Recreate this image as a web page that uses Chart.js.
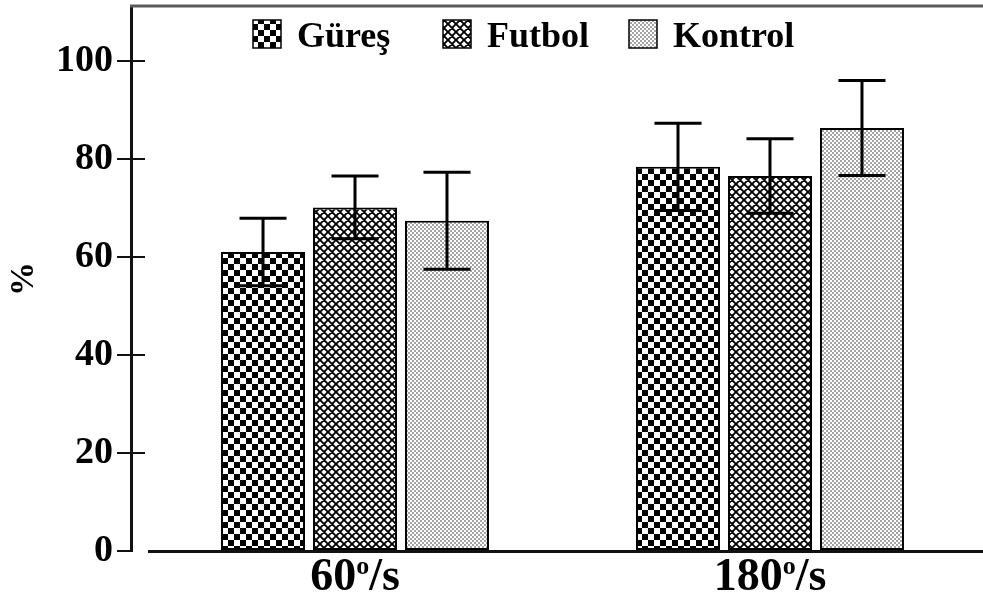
<!DOCTYPE html>
<html>
<head>
<meta charset="utf-8">
<script src="https://cdn.jsdelivr.net/npm/chart.js@4.4.1/dist/chart.umd.min.js"></script>
<style>
  html, body { margin: 0; padding: 0; background: #fff; }
  #wrap { width: 983px; height: 598px; }
</style>
</head>
<body>
<div id="wrap"><canvas id="c" width="983" height="598"></canvas></div>
<script>
// Angular velocity groups (deg/s) and the three participant groups
const speeds = ['60', '180'];
const groups = ['Güreş', 'Futbol', 'Kontrol'];

// Mean values (%) per speed
const gures = [61.0, 78.4];
const futbol = [70.1, 76.5];
const kontrol = [67.4, 86.3];

// Standard deviations (%) per speed
const guresSd = [6.9, 8.9];
const futbolSd = [6.4, 7.6];
const kontrolSd = [9.9, 9.7];

// Y axis tick values
const yTicks = [0, 20, 40, 60, 80, 100];

const SERIF = "'Liberation Serif', 'Times New Roman', serif";

// --- fill patterns -------------------------------------------------------
const patCtx = document.createElement('canvas').getContext('2d');
function makePattern(size, paint) {
  const c = document.createElement('canvas');
  c.width = c.height = size;
  const g = c.getContext('2d');
  g.fillStyle = '#fff';
  g.fillRect(0, 0, size, size);
  paint(g, size);
  return patCtx.createPattern(c, 'repeat');
}
const checker = makePattern(12, (g) => {
  g.fillStyle = '#000';
  g.fillRect(0, 0, 6, 6);
  g.fillRect(6, 6, 6, 6);
});
const lattice = makePattern(8, (g, s) => {
  g.strokeStyle = '#000';
  g.lineWidth = 1.9;
  g.beginPath();
  for (const k of [-s, 0, s]) {
    g.moveTo(k - 2, -2); g.lineTo(k + s + 2, s + 2);
    g.moveTo(k - 2, s + 2); g.lineTo(k + s + 2, -2);
  }
  g.stroke();
});
const stipple = makePattern(4, (g) => {
  g.fillStyle = '#a4a4a4';
  g.fillRect(0, 0, 2, 2);
  g.fillRect(2, 2, 2, 2);
});

const means = [gures, futbol, kontrol];
const sds = [guresSd, futbolSd, kontrolSd];
const fills = [checker, lattice, stipple];

const datasets = groups.map((name, gi) => ({
  label: name,
  data: speeds.map((_, si) => ({ x: si, y: means[gi][si] })),
  backgroundColor: fills[gi],
  borderColor: '#000',
  borderWidth: 2,
  borderSkipped: false
}));

// --- plugins -------------------------------------------------------------
const errorBars = {
  id: 'errorBars',
  afterDatasetsDraw(chart) {
    const y = chart.scales.y;
    const ctx = chart.ctx;
    ctx.save();
    ctx.strokeStyle = '#000';
    ctx.lineWidth = 3;
    chart.data.datasets.forEach((ds, di) => {
      chart.getDatasetMeta(di).data.forEach((bar, i) => {
        const m = ds.data[i].y;
        const sd = sds[di][i];
        const yt = y.getPixelForValue(m + sd);
        const yb = y.getPixelForValue(m - sd);
        const half = bar.width * 0.28;
        ctx.beginPath();
        ctx.moveTo(bar.x, yt); ctx.lineTo(bar.x, yb);
        ctx.moveTo(bar.x - half, yt); ctx.lineTo(bar.x + half, yt);
        ctx.moveTo(bar.x - half, yb); ctx.lineTo(bar.x + half, yb);
        ctx.stroke();
      });
    });
    ctx.restore();
  }
};

const frame = {
  id: 'frame',
  afterDatasetsDraw(chart) {
    const { ctx, chartArea } = chart;
    const y = chart.scales.y;
    ctx.save();
    // top frame line
    ctx.strokeStyle = '#5a5a5a';
    ctx.lineWidth = 3;
    ctx.beginPath();
    ctx.moveTo(chartArea.left - 1, chartArea.top - 1);
    ctx.lineTo(chartArea.right, chartArea.top - 1);
    ctx.stroke();
    // baseline
    const y0 = y.getPixelForValue(0);
    ctx.strokeStyle = '#111';
    ctx.lineWidth = 3;
    ctx.beginPath();
    ctx.moveTo(chartArea.left + 17, y0 + 0.5);
    ctx.lineTo(chartArea.right, y0 + 0.5);
    ctx.stroke();
    // inner half of the y tick marks
    ctx.lineWidth = 2;
    ctx.beginPath();
    yTicks.filter(v => v > 0).forEach(v => {
      const py = Math.round(y.getPixelForValue(v));
      ctx.moveTo(chartArea.left, py);
      ctx.lineTo(chartArea.left + 14, py);
    });
    ctx.stroke();
    ctx.restore();
  }
};

const speedLabels = {
  id: 'speedLabels',
  afterDraw(chart) {
    const { ctx } = chart;
    const x = chart.scales.x;
    const big = 'bold 46px ' + SERIF;
    const small = 'bold 26px ' + SERIF;
    const baseY = 590;
    ctx.save();
    ctx.fillStyle = '#000';
    ctx.textBaseline = 'alphabetic';
    ctx.textAlign = 'left';
    speeds.forEach((s, i) => {
      ctx.font = big;
      const w1 = ctx.measureText(s).width;
      const w3 = ctx.measureText('/s').width;
      ctx.font = small;
      const w2 = ctx.measureText('o').width;
      const total = w1 + w2 + w3;
      let cx = x.getPixelForValue(i) - total / 2;
      ctx.font = big;
      ctx.fillText(s, cx, baseY);
      cx += w1;
      ctx.font = small;
      ctx.fillText('o', cx, baseY - 16);
      cx += w2;
      ctx.font = big;
      ctx.fillText('/s', cx, baseY);
    });
    ctx.restore();
  }
};

const legendBoxes = {
  id: 'legendBoxes',
  afterDraw(chart) {
    const { ctx } = chart;
    ctx.save();
    ctx.font = 'bold 36px ' + SERIF;
    ctx.textBaseline = 'alphabetic';
    ctx.textAlign = 'left';
    const box = 28, textGap = 16, baseY = 47;
    const itemLeft = [253, 443, 629];
    chart.data.datasets.forEach((ds, i) => {
      const cx = itemLeft[i];
      ctx.fillStyle = ds.backgroundColor;
      ctx.fillRect(cx, baseY - 27, box, box);
      ctx.strokeStyle = '#000';
      ctx.lineWidth = 1.5;
      ctx.strokeRect(cx, baseY - 27, box, box);
      ctx.fillStyle = '#000';
      ctx.fillText(ds.label, cx + box + textGap, baseY);
    });
    ctx.restore();
  }
};

// --- chart ---------------------------------------------------------------
new Chart(document.getElementById('c'), {
  type: 'bar',
  data: { datasets },
  options: {
    responsive: false,
    animation: false,
    devicePixelRatio: 1,
    layout: { padding: { top: 7, bottom: 47, left: 0, right: 0 } },
    datasets: { bar: { categoryPercentage: 0.665, barPercentage: 0.913 } },
    plugins: { legend: { display: false }, tooltip: { enabled: false } },
    scales: {
      x: {
        type: 'linear',
        offset: false,
        min: -0.5398,
        max: 1.5133,
        display: false,
        afterBuildTicks: (s) => { s.ticks = speeds.map((_, i) => ({ value: i })); }
      },
      y: {
        min: 0,
        max: 111,
        afterBuildTicks: (s) => { s.ticks = yTicks.map(v => ({ value: v })); },
        afterFit: (s) => { s.width = 131; s.paddingTop = 0; s.paddingBottom = 0; },
        border: { color: '#111', width: 3 },
        grid: { drawOnChartArea: false, drawTicks: true, tickLength: 14, color: '#111', lineWidth: 2 },
        ticks: {
          color: '#000',
          padding: 4,
          font: { family: SERIF, size: 38, weight: 'bold' }
        },
        title: {
          display: true,
          text: '%',
          color: '#000',
          padding: { top: 4, bottom: 0 },
          font: { family: SERIF, size: 34, weight: 'bold' }
        }
      }
    }
  },
  plugins: [frame, errorBars, speedLabels, legendBoxes]
});
</script>
</body>
</html>
